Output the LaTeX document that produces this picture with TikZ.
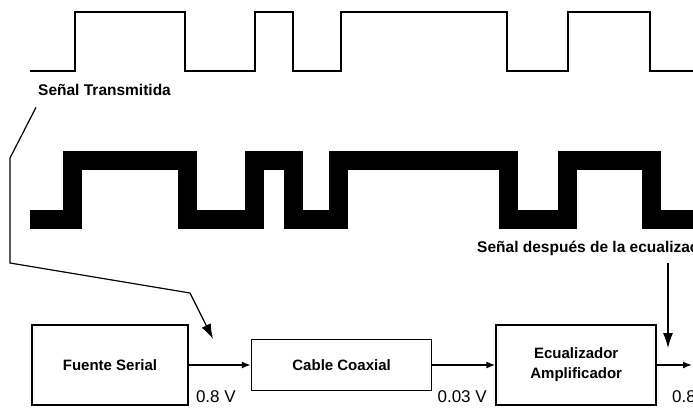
\documentclass[tikz,border=0pt]{standalone}
\usepackage{fontspec}
\setmainfont{Liberation Sans}
\usetikzlibrary{arrows.meta, positioning, calc}
\tikzstyle{block} = [draw, rectangle, line width=1.6pt, font=\bfseries\fontsize{15}{20}\selectfont, align=center, inner sep=0pt]
\tikzstyle{caption} = [font=\bfseries\fontsize{15.5}{18}\selectfont, inner sep=0pt, anchor=base west]
\tikzstyle{volt} = [font=\fontsize{17}{20}\selectfont, inner sep=0pt, anchor=base west]
\tikzstyle{arrow} = [line width=1.6pt, -{Latex[length=9pt,width=7pt]}]
\tikzstyle{pointer} = [line width=1.2pt, -{Latex[length=15pt,width=10pt]}]

\begin{document}
\begin{tikzpicture}[x=1pt, y=-1pt]
    \useasboundingbox (0,0) rectangle (693,408);
    \clip (0,0) rectangle (693,408);

    \draw [line width=2.6pt] (30,71) -| (75,12) -| (185,71) -| (255,12) -| (293,71) -| (341,12) -| (507,71) -| (568,12) -| (650,71) -- (700,71);
    \draw [line width=19pt] (30,219) -| (72,160) -| (187,219) -| (254,160) -| (293,219) -| (338,160) -| (508,219) -| (567,160) -| (651,219) -- (700,219);

    \node (txlabel) [caption] at (38,95) {Señal Transmitida};
    \node (eqlabel) [caption] at (477,252) {Señal después de la ecualización};

    \node (fuente) [block, minimum width=156pt, minimum height=80pt] at (110,365) {Fuente Serial};
    \node (cable) [block, minimum width=180pt, minimum height=51pt, right=62pt of fuente] {Cable Coaxial};
    \node (ecual) [block, minimum width=160pt, minimum height=80pt, right=63pt of cable] {Ecualizador\\Amplificador};

    \node (vfuente) [volt] at ($(fuente.south east)+(7,-3)$) {0.8 V};
    \node (vcable) [volt] at ($(cable.east |- fuente.south)+(5,-3)$) {0.03 V};
    \node (vecual) [volt] at ($(ecual.south east)+(15,-3)$) {0.8 V};

    \coordinate (txin) at (213,339);
    \coordinate (eqin) at (668,348);
    \coordinate (out) at (692,365);

    \draw [arrow] (fuente) -- (cable);
    \draw [arrow] (cable) -- (ecual);
    \draw [arrow] (ecual) -- (out);
    \draw [pointer] (txlabel.south west) ++(-2,12) -- (10,158) -- (10,263) -- (190,293) -- (txin);
    \draw [pointer] (eqin |- eqlabel.south) ++(0,8) -- (eqin);
\end{tikzpicture}
\end{document}
